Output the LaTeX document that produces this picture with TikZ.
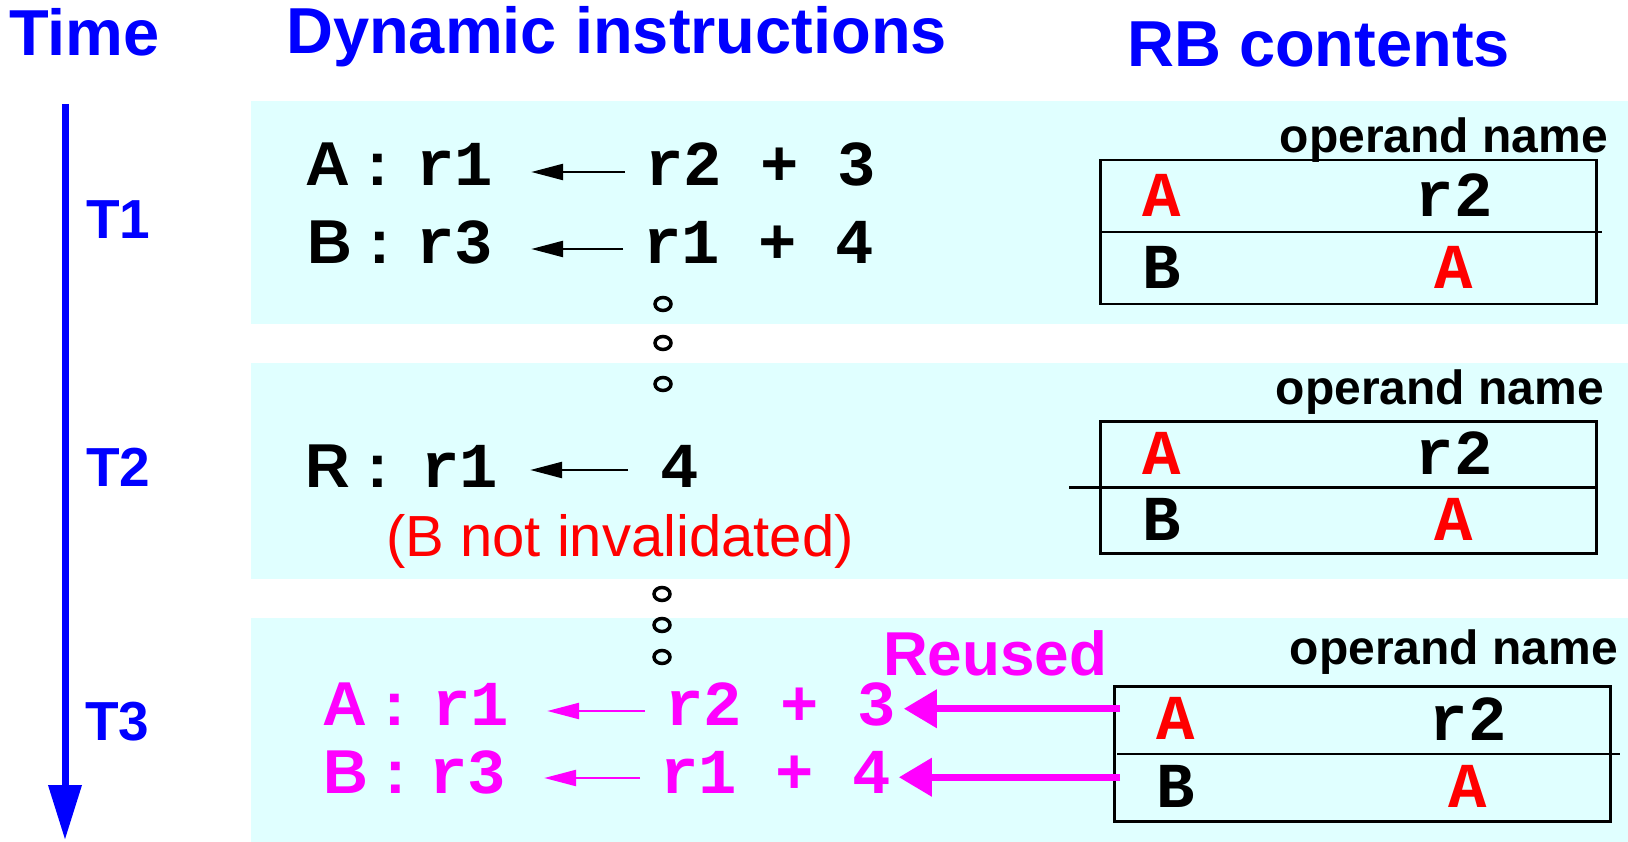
\documentclass[tikz,border=0pt]{standalone}
\usepackage{fontspec}
\setmainfont{Liberation Sans}
\setmonofont{Liberation Mono}
\usetikzlibrary{arrows.meta}
\definecolor{panelcyan}{RGB}{224,255,255}
\definecolor{tblue}{RGB}{0,0,255}
\definecolor{tred}{RGB}{255,0,0}
\definecolor{tmagenta}{RGB}{255,0,255}
\newcommand{\fs}[1]{\fontsize{#1}{#1}\selectfont}
\newcommand{\gapdots}[4]{\draw[line width=3.5] (#1,#2) circle[x radius=8, y radius=6.5] (#1,#3) circle[x radius=8, y radius=6.5] (#1,#4) circle[x radius=8, y radius=6.5];}
\newcommand{\rbtable}[5]{\node[rbbox, minimum height=#3, anchor=north west] (#1) at (#2) {};
\draw[line width=2.5] ([xshift=#4]#1.west) -- ([xshift=#5]#1.east);
\node[cell, tred] (#1-a) at ([shift={(63,#3/4)}]#1.north west) {A};
\node[cell] (#1-r) at ([shift={(355,#3/4)}]#1.north west) {r2};
\node[cell] (#1-b) at ([shift={(63,3*#3/4)}]#1.north west) {B};
\node[cell, tred] (#1-c) at ([shift={(355,3*#3/4)}]#1.north west) {A};}

\begin{document}
\begin{tikzpicture}[x=1pt, y=-1pt,
  head/.style={font=\fs{65}\bfseries, text=tblue, inner sep=0},
  tlab/.style={font=\fs{55}\bfseries, text=tblue, inner sep=0},
  lab/.style={font=\fs{62}\bfseries, inner sep=0},
  reg/.style={font=\fs{64}\ttfamily\bfseries, inner sep=0},
  cell/.style={font=\fs{64}\ttfamily\bfseries, inner sep=0},
  opname/.style={font=\fs{48}\bfseries, inner sep=0, anchor=base east},
  rbbox/.style={draw, line width=2.5, minimum width=496, inner sep=0},
  mov/.style={line width=2.5, -{Triangle[length=32pt,width=16pt]}, shorten <=20pt, shorten >=38pt},
  bigarrow/.style={tmagenta, line width=7, -{Triangle[length=33pt,width=37pt]}}]
\useasboundingbox (0,0) rectangle (1628,842);
% panels
\fill[panelcyan] (251,101) rectangle (1628,324);
\fill[panelcyan] (251,363) rectangle (1628,579);
\fill[panelcyan] (251,618) rectangle (1628,842);
% headings
\node[head, anchor=base west] (time) at (9,56) {Time};
\node[head, anchor=base west] (dyn) at (286,54) {Dynamic instructions};
\node[head, anchor=base west] (rbhead) at (1127,67) {RB contents};
% time axis
\coordinate (ttop) at (65,104);
\coordinate (tend) at (65,840);
\draw[tblue, line width=7, -{Triangle[length=55pt,width=32pt]}] (ttop) -- (tend);
\node[tlab, anchor=west] (t1) at (86,220) {T1};
\node[tlab, anchor=west] (t2) at (86,467) {T2};
\node[tlab, anchor=west] (t3) at (85,722) {T3};
% T1
\node[lab, anchor=base west] (a1-lab) at (305,186) {A :};
\node[reg, anchor=base west] (a1-dst) at (416,186) {r1};
\node[reg, anchor=base west] (a1-src) at (645,186) {r2 + 3};
\draw[mov] ([yshift=14pt]a1-src.base west) -- ([yshift=14pt]a1-dst.base east);
\node[lab, anchor=base west] (b1-lab) at (307,264) {B :};
\node[reg, anchor=base west] (b1-dst) at (416,264) {r3};
\node[reg, anchor=base west] (b1-src) at (643,264) {r1 + 4};
\draw[mov] ([yshift=15pt]b1-src.base west) -- ([yshift=15pt]b1-dst.base east);
\gapdots{663}{304}{343}{384}
\node[opname] (op1) at (1608,153) {operand name};
\rbtable{rb1}{1099,159}{144}{0}{4}
% T2
\node[lab, anchor=base west] (r-lab) at (305,487) {R :};
\node[reg, anchor=base west] (r-dst) at (421,487) {r1};
\node[reg, anchor=base west] (r-src) at (660,487) {4};
\draw[mov, shorten <=32pt, shorten >=32pt] ([yshift=17pt]r-src.base west) -- ([yshift=17pt]r-dst.base east);
\node[font=\fs{58}, text=tred, inner sep=0] (note) at (620,541) {(B not invalidated)};
\gapdots{662}{594}{625}{657}
\node[opname] (op2) at (1604,404) {operand name};
\rbtable{rb2}{1099,420}{132}{-30}{0}
% T3
\node[lab, text=tmagenta, anchor=base west] (a3-lab) at (322,725) {A :};
\node[reg, text=tmagenta, anchor=base west] (a3-dst) at (432,725) {r1};
\node[reg, text=tmagenta, anchor=base west] (a3-src) at (665,725) {r2 + 3};
\draw[mov, tmagenta] ([yshift=14pt]a3-src.base west) -- ([yshift=14pt]a3-dst.base east);
\node[lab, text=tmagenta, anchor=base west] (b3-lab) at (323,793) {B :};
\node[reg, text=tmagenta, anchor=base west] (b3-dst) at (429,793) {r3};
\node[reg, text=tmagenta, anchor=base west] (b3-src) at (660,793) {r1 + 4};
\draw[mov, tmagenta] ([yshift=15pt]b3-src.base west) -- ([yshift=15pt]b3-dst.base east);
\node[lab, text=tmagenta, anchor=base west] (reused) at (883,675) {Reused};
\node[opname] (op3) at (1618,664) {operand name};
\rbtable{rb3}{1113,685}{135}{4}{8}
\draw[bigarrow, shorten <=-7pt, shorten >=8pt] ([yshift=10pt]rb3-a -| rb3.west) -- ([yshift=10pt]rb3-a -| a3-src.east);
\draw[bigarrow, shorten <=-7pt, shorten >=8pt] ([yshift=9pt]rb3-b -| rb3.west) -- ([yshift=9pt]rb3-b -| b3-src.east);
\end{tikzpicture}
\end{document}
